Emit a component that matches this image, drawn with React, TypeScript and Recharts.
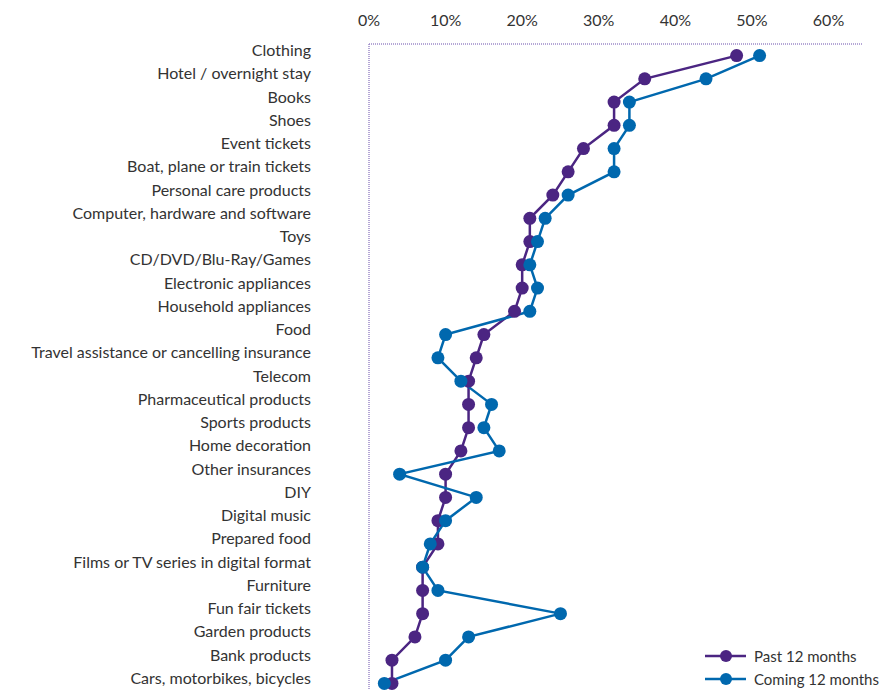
import { LineChart, Line, XAxis, YAxis } from "recharts";

const categories = [
	"Clothing",
	"Hotel / overnight stay",
	"Books",
	"Shoes",
	"Event tickets",
	"Boat, plane or train tickets",
	"Personal care products",
	"Computer, hardware and software",
	"Toys",
	"CD/DVD/Blu-Ray/Games",
	"Electronic appliances",
	"Household appliances",
	"Food",
	"Travel assistance or cancelling insurance",
	"Telecom",
	"Pharmaceutical products",
	"Sports products",
	"Home decoration",
	"Other insurances",
	"DIY",
	"Digital music",
	"Prepared food",
	"Films or TV series in digital format",
	"Furniture",
	"Fun fair tickets",
	"Garden products",
	"Bank products",
	"Cars, motorbikes, bicycles",
];

const past12 = [48, 36, 32, 32, 28, 26, 24, 21, 21, 20, 20, 19, 15, 14, 13, 13, 13, 12, 10, 10, 9, 9, 7, 7, 7, 6, 3, 3];
const coming12 = [51, 44, 34, 34, 32, 32, 26, 23, 22, 21, 22, 21, 10, 9, 12, 16, 15, 17, 4, 14, 10, 8, 7, 9, 25, 13, 10, 2];

const xTicks = [0, 10, 20, 30, 40, 50, 60];

const PURPLE = "#4B2582";
const BLUE = "#0068AE";
const TEXT = "#333333";
const BORDER = "#9D8BC9";
const FONT = "Lato, 'Open Sans', sans-serif";

const data = categories.map((name, i) => ({
	name,
	past: past12[i],
	coming: coming12[i],
}));

const legendItems = [
	{ label: "Past 12 months", color: PURPLE },
	{ label: "Coming 12 months", color: BLUE },
];

const CategoryTick = (props: any) => {
	const { x, y, payload } = props;
	return (
		<text
			x={x}
			y={y - 5}
			dy="0.35em"
			textAnchor="end"
			fill={TEXT}
			fontSize={16}
			fontFamily={FONT}
		>
			{payload.value}
		</text>
	);
};

const LegendBox = () => (
	<div
		style={{
			position: "absolute",
			left: 705,
			top: 644,
			fontFamily: FONT,
			fontSize: 15,
			color: TEXT,
		}}
	>
		{legendItems.map((it) => (
			<div key={it.label} style={{ display: "flex", alignItems: "center", height: 23 }}>
				<svg width={44} height={14} style={{ marginRight: 5 }}>
					<line x1={0} y1={7} x2={41} y2={7} stroke={it.color} strokeWidth={2.5} />
					<circle cx={21} cy={7} r={6} fill={it.color} />
				</svg>
				<span style={{ whiteSpace: "nowrap" }}>{it.label}</span>
			</div>
		))}
	</div>
);

export default function App() {
	return (
		<div
			style={{
				position: "fixed",
				left: 0,
				top: 0,
				width: 880,
				height: 690,
				overflow: "hidden",
				background: "#fff",
			}}
		>
			<LineChart
				width={880}
				height={700}
				data={data}
				layout="vertical"
				margin={{ top: 0, right: 17, bottom: 5, left: 0 }}
			>
				<XAxis
					type="number"
					orientation="top"
					domain={[0, 64.5]}
					ticks={xTicks}
					tickFormatter={(v) => `${v}%`}
					height={44}
					tickLine={false}
					tickMargin={12}
					axisLine={{ stroke: BORDER, strokeDasharray: "1 1", strokeWidth: 1.5 }}
					tick={{ fill: TEXT, fontSize: 16, fontFamily: FONT }}
					allowDataOverflow
				/>
				<YAxis
					type="category"
					dataKey="name"
					width={369}
					interval={0}
					padding={{ top: 11.6, bottom: 11.6 }}
					tickLine={false}
					tickSize={0}
					tickMargin={58}
					axisLine={{ stroke: BORDER, strokeDasharray: "1 1", strokeWidth: 1.5 }}
					tick={<CategoryTick />}
				/>
				<Line
					dataKey="past"
					name="Past 12 months"
					stroke={PURPLE}
					strokeWidth={2.5}
					dot={{ r: 6.5, fill: PURPLE, stroke: PURPLE, strokeWidth: 0 }}
					activeDot={false}
					isAnimationActive={false}
				/>
				<Line
					dataKey="coming"
					name="Coming 12 months"
					stroke={BLUE}
					strokeWidth={2.5}
					dot={{ r: 6.5, fill: BLUE, stroke: BLUE, strokeWidth: 0 }}
					activeDot={false}
					isAnimationActive={false}
				/>
			</LineChart>
			<LegendBox />
		</div>
	);
}
